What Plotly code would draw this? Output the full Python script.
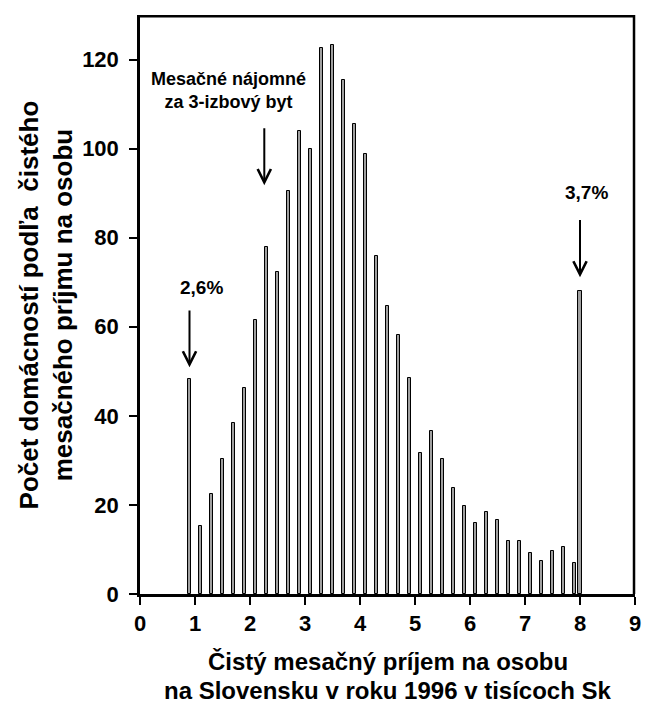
import plotly.graph_objects as go

# income per person (thousands Sk), bin centres
income = [0.9, 1.1, 1.3, 1.5, 1.7, 1.9, 2.1, 2.3, 2.5, 2.7, 2.9, 3.1, 3.3, 3.5,
          3.7, 3.9, 4.1, 4.3, 4.5, 4.7, 4.9, 5.1, 5.3, 5.5, 5.7, 5.9, 6.1, 6.3,
          6.5, 6.7, 6.9, 7.1, 7.3, 7.5, 7.7, 7.9, 8.0]
# number of households
households = [48.2, 15.3, 22.5, 30.2, 38.3, 46.2, 61.6, 78.0, 72.3, 90.4, 103.9,
              100.0, 122.5, 123.3, 115.4, 105.6, 98.7, 76.0, 64.6, 58.2, 48.6,
              31.7, 36.6, 30.2, 23.7, 19.7, 15.9, 18.3, 16.7, 11.9, 11.9, 9.3,
              7.5, 9.75, 10.5, 7.05, 68.1]

x_ticks = list(range(0, 10))
y_ticks = [0, 20, 40, 60, 80, 100, 120]

# arrows: (tip x, tip y, tail y)
arrows = [(0.9, 50.9, 64.0), (2.26, 91.8, 104.9), (8.0, 71.1, 84.3)]
# labels: (text, x, y, size)
labels = [("2,6%", 1.11, 68.9, 19),
          ("3,7%", 8.11, 90.1, 19),
          ("Mesačné nájomné<br>za 3-izbový byt", 1.61, 113.0, 18)]

x_title = ["Čistý mesačný príjem na osobu",
           "na Slovensku v roku 1996 v tisícoch Sk"]
y_title = "Počet domácností podľa\u00a0 čistého<br>mesačného príjmu na osobu"

FONT = "Liberation Sans, Arial, sans-serif"

fig = go.Figure()
fig.add_trace(go.Bar(
    x=income, y=households, width=0.06,
    marker=dict(color="#a0a0a0", line=dict(color="black", width=1)),
    showlegend=False,
))

for tx, ty, tail in arrows:
    fig.add_annotation(x=tx, y=ty, ax=tx, ay=tail, axref="x", ayref="y",
                       xref="x", yref="y", text="", showarrow=True,
                       arrowhead=5, arrowsize=1.3, arrowwidth=2,
                       arrowcolor="black", standoff=0, startstandoff=0)

for txt, lx, ly, sz in labels:
    fig.add_annotation(x=lx, y=ly, xref="x", yref="y", text=txt,
                       showarrow=False, align="center",
                       font=dict(family=FONT, size=sz, color="black",
                                 weight="bold"))

# axis titles as annotations so they sit exactly
for line, py in zip(x_title, [-0.117, -0.166]):
    fig.add_annotation(xref="paper", yref="paper", x=0.5, y=py,
                       xanchor="center", yanchor="middle", showarrow=False,
                       text=line,
                       font=dict(family=FONT, size=24, color="black", weight="bold"))
fig.add_annotation(xref="paper", yref="paper", x=-0.19, y=0.5,
                   xanchor="center", yanchor="middle", showarrow=False,
                   textangle=-90, text=y_title,
                   font=dict(family=FONT, size=26, color="black", weight="bold"))

# plot frame, top and right sides
frame = dict(color="black", width=2.5)
fig.add_shape(type="line", xref="paper", yref="paper", x0=0, x1=1, y0=0.998, y1=0.998,
              line=frame, layer="above")
fig.add_shape(type="line", xref="paper", yref="paper", x0=0.998, x1=0.998, y0=0, y1=1,
              line=frame, layer="above")

fig.update_xaxes(range=[0, 9], tickvals=x_ticks, ticks="outside", ticklen=8,
                 tickwidth=2, tickcolor="black", showline=True, linewidth=2.5,
                 linecolor="black", showgrid=False, zeroline=False,
                 automargin=False,
                 tickfont=dict(family=FONT, size=22, color="black", weight="bold"))
fig.update_yaxes(range=[0, 130], tickvals=y_ticks, ticks="outside", ticklen=8,
                 tickwidth=2, tickcolor="black", showline=True, linewidth=2.5,
                 linecolor="black", showgrid=False, zeroline=False,
                 automargin=False, ticklabelstandoff=6,
                 tickfont=dict(family=FONT, size=22, color="black", weight="bold"))

# page body adds an 8px offset; keep the page from scrolling
fig.update_layout(
    template="none",
    width=635, height=697,
    margin=dict(l=132, r=8, t=7, b=111),
    plot_bgcolor="white", paper_bgcolor="white",
    bargap=0,
)

fig.write_html("out.html")
